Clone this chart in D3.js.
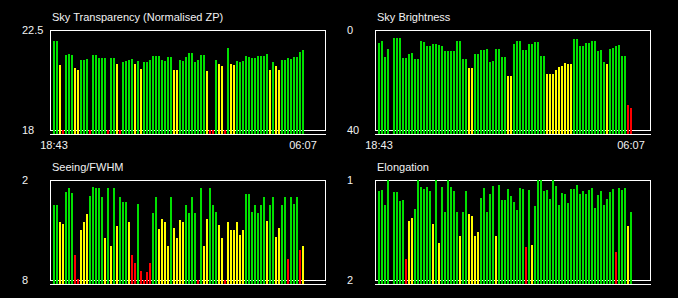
<!DOCTYPE html>
<html><head><meta charset="utf-8">
<script src="https://cdn.jsdelivr.net/npm/d3@7"></script>
<style>html,body{margin:0;padding:0;background:#000;overflow:hidden}</style>
</head><body>
<svg id="c" width="678" height="298"></svg>
<script>
// ---- data ----
const timeLabels = ["18:43", "06:07"];

const titles = ["Sky Transparency (Normalised ZP)", "Sky Brightness", "Seeing/FWHM", "Elongation"];

// tick labels: [top, bottom]
const transparencyTicks = [22.5, 18];
const brightnessTicks = [0, 40];
const seeingTicks = [2, 8];
const elongationTicks = [1, 2];

const transparency = [21.99,21.99,20.93,17.6,21.39,21.43,21.39,20.80,20.71,21.16,
  21.16,21.21,17.6,21.39,21.39,21.25,21.25,21.25,17.6,21.25,
  21.25,20.96,17.6,21.07,21.12,21.16,21.21,20.96,21.12,20.75,
  21.04,21.07,21.16,21.34,21.34,21.34,21.16,21.12,21.30,21.30,
  20.71,20.71,21.16,21.12,21.30,21.48,21.48,21.07,21.16,21.39,
  21.39,20.66,17.6,17.6,21.16,20.96,20.89,17.6,21.70,20.96,
  20.93,21.12,21.07,21.12,21.34,21.30,21.25,21.25,21.34,21.34,
  21.34,21.43,20.71,21.07,20.89,20.71,21.16,21.16,21.25,21.21,
  21.30,21.30,21.52,21.61];

const brightness = [5.08,4.28,10.70,7.49,null,3.08,3.08,3.08,11.10,11.10,
  9.50,9.10,11.51,11.51,4.28,4.68,6.29,6.29,5.49,5.49,
  5.89,6.29,8.29,8.29,8.29,8.29,4.28,4.28,11.51,11.51,
  15.12,15.12,9.50,9.50,7.89,7.89,7.49,12.71,12.31,7.49,
  7.49,10.70,10.70,18.33,18.33,5.49,4.28,4.28,7.89,7.89,
  5.49,5.49,4.68,4.68,10.30,10.30,17.52,17.52,17.52,15.92,
  14.72,14.31,13.11,13.51,13.51,3.48,3.48,6.29,6.29,5.08,
  5.08,4.28,4.28,8.29,7.89,12.71,13.51,7.49,7.09,6.29,
  5.89,10.30,10.30,29.97,31.17];

const seeing = [3.49,3.49,4.51,4.63,2.70,2.46,2.76,6.49,7.94,4.99,
  4.51,4.05,2.94,2.40,2.46,2.46,3.00,5.47,2.46,5.98,
  2.46,4.75,3.00,3.30,3.30,4.51,6.49,6.98,3.42,7.46,
  8.6,7.52,6.98,3.95,3.00,4.93,4.33,4.51,5.95,3.00,
  4.87,5.47,4.39,4.51,3.49,3.95,3.00,3.95,8.6,2.46,
  5.95,4.33,2.46,3.49,3.91,4.69,5.47,8.6,4.51,4.99,
  4.99,4.51,5.29,4.99,2.82,2.82,3.91,3.49,3.95,3.49,
  3.00,4.45,3.49,3.00,5.41,4.87,3.49,3.00,6.74,3.00,
  3.42,3.00,6.19,5.95];

const elongation = [1.107,1.097,1.247,1.0,null,1.117,1.117,1.207,1.197,1.789,
  1.408,1.378,1.288,1.0,1.067,1.087,1.067,1.107,1.438,1.0,
  1.629,1.067,1.318,1.0,1.067,1.107,1.32,1.559,1.318,1.107,
  1.34,1.358,1.559,1.518,1.177,1.077,1.318,1.137,1.057,1.559,
  1.047,1.197,1.197,1.087,1.157,1.217,1.298,1.077,1.087,1.67,
  1.097,1.65,1.258,1.0,1.0,1.107,1.097,1.187,1.0,1.057,
  1.247,1.127,1.137,1.227,1.087,1.087,1.047,1.137,1.107,1.137,
  1.097,1.077,1.278,1.147,1.107,1.247,1.187,1.117,1.087,1.719,
  1.077,1.097,1.077,1.458,1.318];

// quality thresholds (good / fair / poor)
const transparencyLimits = [19, 21];
const brightnessLimits = [13, 20];
const seeingLimits = [4, 6];
const elongationLimits = [1.33, 1.66];

// ---- drawing ----
const GREEN = "#00e000", YELLOW = "#ffff00", RED = "#ff0000";
const FONT = "'Liberation Sans', Arial, Helvetica, sans-serif";
const SLOTS = 85;

const panels = [
  {title: titles[0], values: transparency, ticks: transparencyTicks, limits: transparencyLimits, colors: [RED, YELLOW, GREEN], col: 0, row: 0},
  {title: titles[1], values: brightness, ticks: brightnessTicks, limits: brightnessLimits, colors: [GREEN, YELLOW, RED], col: 1, row: 0},
  {title: titles[2], values: seeing, ticks: seeingTicks, limits: seeingLimits, colors: [GREEN, YELLOW, RED], col: 0, row: 1},
  {title: titles[3], values: elongation, ticks: elongationTicks, limits: elongationLimits, colors: [GREEN, YELLOW, RED], col: 1, row: 1}
];

const svg = d3.select("#c");
svg.append("rect").attr("width", 678).attr("height", 298).attr("fill", "#000");

panels.forEach(p => {
  const left = p.col ? 375 : 50;
  const top = p.row ? 180 : 30;
  const boxW = 275, boxH = 100;
  const base = top + boxH + 5;

  const x = d3.scaleLinear().domain([0, SLOTS]).range([left + 3, left + 3 + 3 * SLOTS]);
  const y = d3.scaleLinear().domain([p.ticks[1], p.ticks[0]]).range([top + boxH, top]).clamp(true);
  const color = d3.scaleThreshold().domain(p.limits).range(p.colors);

  const g = svg.append("g");

  g.append("rect")
    .attr("x", left + 0.5).attr("y", top + 0.5)
    .attr("width", boxW).attr("height", boxH)
    .attr("fill", "none").attr("stroke", "#fff").attr("stroke-width", 1)
    .attr("shape-rendering", "crispEdges");

  const pts = p.values.map((v, i) => ({v, i})).filter(d => d.v != null);

  g.selectAll("rect.bar").data(pts).join("rect")
    .attr("class", "bar")
    .attr("x", d => x(d.i))
    .attr("width", 2)
    .attr("y", d => Math.round(y(d.v)))
    .attr("height", d => base - Math.round(y(d.v)))
    .attr("fill", d => color(d.v))
    .attr("shape-rendering", "crispEdges");

  g.append("line")
    .attr("x1", left).attr("x2", left + boxW + 1)
    .attr("y1", base - 0.5).attr("y2", base - 0.5)
    .attr("stroke", "#fff").attr("stroke-width", 1)
    .attr("shape-rendering", "crispEdges");

  g.append("text")
    .attr("x", left + 2).attr("y", top - 9.5)
    .attr("fill", "#f2f2f2").attr("font-family", FONT).attr("font-size", 11)
    .text(p.title);

  p.ticks.forEach(t => {
    g.append("text")
      .attr("x", left - 28).attr("y", y(t))
      .attr("dy", "0.36em")
      .attr("fill", "#f2f2f2").attr("font-family", FONT).attr("font-size", 11)
      .text(t);
  });

  if (p.row === 0) {
    const first = pts[0].i, last = pts[pts.length - 1].i;
    [first, last].forEach((idx, k) => {
      g.append("text")
        .attr("x", x(idx) + 1).attr("y", base + 14)
        .attr("text-anchor", "middle")
        .attr("fill", "#f2f2f2").attr("font-family", FONT).attr("font-size", 11)
        .text(timeLabels[k]);
    });
  }
});
</script>
</body></html>
